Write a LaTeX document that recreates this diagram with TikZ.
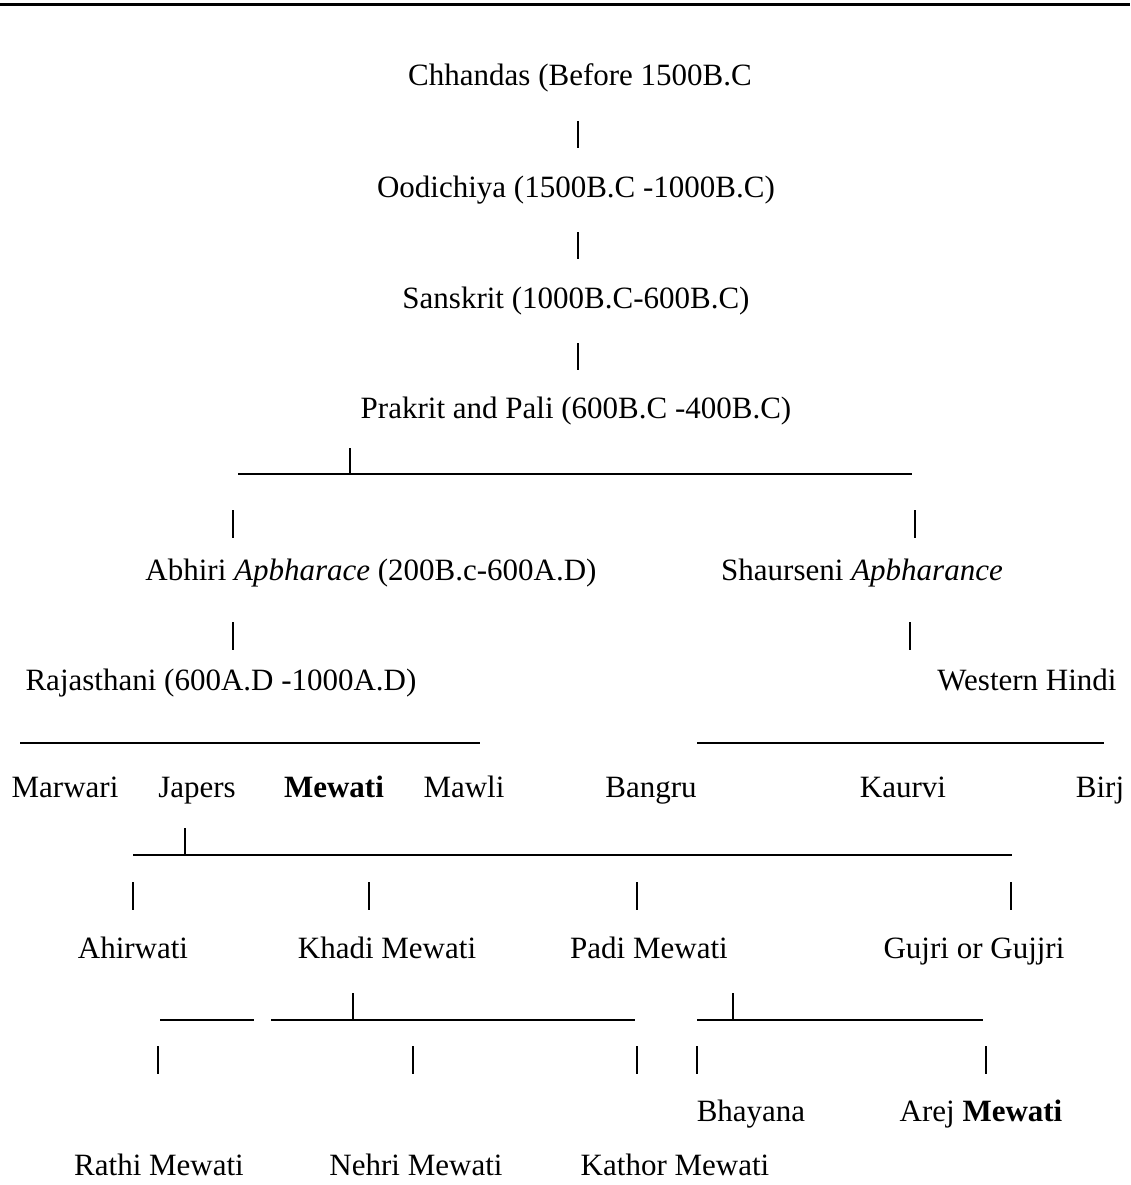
\documentclass[tikz,border=0pt]{standalone}
\usepackage{fontspec}
\setmainfont{Liberation Serif}
\begin{document}
\begin{tikzpicture}[x=1pt,y=-1pt,
  txt/.style={anchor=base,inner sep=0pt,font=\fontsize{31}{37}\selectfont},
  rule/.style={line width=2pt,black},
  bar/.style={line width=1.8pt,black}]
\useasboundingbox (0,0) rectangle (1130,1185);
\fill[white] (0,0) rectangle (1130,1185);
% top rule
\coordinate (r1) at (0,5); \coordinate (r2) at (1130,5);
\draw[line width=3pt] (r1) -- (r2);
% texts
\node[txt] (chh) at (580,86) {Chhandas (Before 1500B.C};
\node[txt] (ood) at (576,197) {Oodichiya (1500B.C -1000B.C)};
\node[txt] (san) at (576,308) {Sanskrit (1000B.C-600B.C)};
\node[txt] (pra) at (576,418) {Prakrit and Pali (600B.C -400B.C)};
\node[txt] (abh) at (371,580) {Abhiri \textit{Apbharace} (200B.c-600A.D)};
\node[txt] (sha) at (862,580) {Shaurseni \textit{Apbharance}};
\node[txt] (raj) at (221,690) {Rajasthani (600A.D -1000A.D)};
\node[txt] (wes) at (1027,690) {Western Hindi};
\node[txt] (mar) at (65,797) {Marwari};
\node[txt] (jap) at (197,797) {Japers};
\node[txt] (mew) at (334,797) {\textbf{Mewati}};
\node[txt] (maw) at (464,797) {Mawli};
\node[txt] (ban) at (651,797) {Bangru};
\node[txt] (kau) at (903,797) {Kaurvi};
\node[txt] (bir) at (1100,797) {Birj};
\node[txt] (ahi) at (133,958) {Ahirwati};
\node[txt] (kha) at (387,958) {Khadi Mewati};
\node[txt] (pad) at (649,958) {Padi Mewati};
\node[txt] (guj) at (974,958) {Gujri or Gujjri};
\node[txt] (bha) at (751,1121) {Bhayana};
\node[txt] (are) at (981,1121) {Arej \textbf{Mewati}};
\node[txt] (rat) at (159,1175) {Rathi Mewati};
\node[txt] (neh) at (416,1175) {Nehri Mewati};
\node[txt] (kat) at (675,1175) {Kathor Mewati};
% vertical bars in the trunk
\coordinate (b1t) at (578,121); \coordinate (b1b) at (578,148);
\coordinate (b2t) at (578,232); \coordinate (b2b) at (578,259);
\coordinate (b3t) at (578,343); \coordinate (b3b) at (578,370);
\draw[bar] (b1t) -- (b1b);
\draw[bar] (b2t) -- (b2b);
\draw[bar] (b3t) -- (b3b);
% first split
\coordinate (h1a) at (238,474); \coordinate (h1b) at (912,474);
\coordinate (t1t) at (350,448); \coordinate (t1b) at (350,474);
\draw[rule] (h1a) -- (h1b);
\draw[bar] (t1t) -- (t1b);
\coordinate (b4t) at (233,510); \coordinate (b4b) at (233,538);
\coordinate (b5t) at (915,510); \coordinate (b5b) at (915,538);
\draw[bar] (b4t) -- (b4b);
\draw[bar] (b5t) -- (b5b);
\coordinate (b6t) at (233,622); \coordinate (b6b) at (233,650);
\coordinate (b7t) at (910,622); \coordinate (b7b) at (910,650);
\draw[bar] (b6t) -- (b6b);
\draw[bar] (b7t) -- (b7b);
% lines above the dialect row
\coordinate (h2a) at (20,743); \coordinate (h2b) at (480,743);
\coordinate (h3a) at (697,743); \coordinate (h3b) at (1104,743);
\draw[rule] (h2a) -- (h2b);
\draw[rule] (h3a) -- (h3b);
% Mewati split
\coordinate (h4a) at (133,855); \coordinate (h4b) at (1012,855);
\coordinate (t4t) at (185,828); \coordinate (t4b) at (185,855);
\draw[rule] (h4a) -- (h4b);
\draw[bar] (t4t) -- (t4b);
\coordinate (c1t) at (133,882); \coordinate (c1b) at (133,910);
\coordinate (c2t) at (369,882); \coordinate (c2b) at (369,910);
\coordinate (c3t) at (637,882); \coordinate (c3b) at (637,910);
\coordinate (c4t) at (1011,882); \coordinate (c4b) at (1011,910);
\draw[bar] (c1t) -- (c1b);
\draw[bar] (c2t) -- (c2b);
\draw[bar] (c3t) -- (c3b);
\draw[bar] (c4t) -- (c4b);
% lowest splits
\coordinate (h5a) at (160,1020); \coordinate (h5b) at (254,1020);
\coordinate (h6a) at (271,1020); \coordinate (h6b) at (635,1020);
\coordinate (h7a) at (697,1020); \coordinate (h7b) at (983,1020);
\draw[rule] (h5a) -- (h5b);
\draw[rule] (h6a) -- (h6b);
\draw[rule] (h7a) -- (h7b);
\coordinate (t6t) at (353,993); \coordinate (t6b) at (353,1020);
\coordinate (t7t) at (733,993); \coordinate (t7b) at (733,1020);
\draw[bar] (t6t) -- (t6b);
\draw[bar] (t7t) -- (t7b);
\coordinate (d1t) at (158,1046); \coordinate (d1b) at (158,1074);
\coordinate (d2t) at (413,1046); \coordinate (d2b) at (413,1074);
\coordinate (d3t) at (637,1046); \coordinate (d3b) at (637,1074);
\coordinate (d4t) at (697,1046); \coordinate (d4b) at (697,1074);
\coordinate (d5t) at (986,1046); \coordinate (d5b) at (986,1074);
\draw[bar] (d1t) -- (d1b);
\draw[bar] (d2t) -- (d2b);
\draw[bar] (d3t) -- (d3b);
\draw[bar] (d4t) -- (d4b);
\draw[bar] (d5t) -- (d5b);
\end{tikzpicture}
\end{document}
